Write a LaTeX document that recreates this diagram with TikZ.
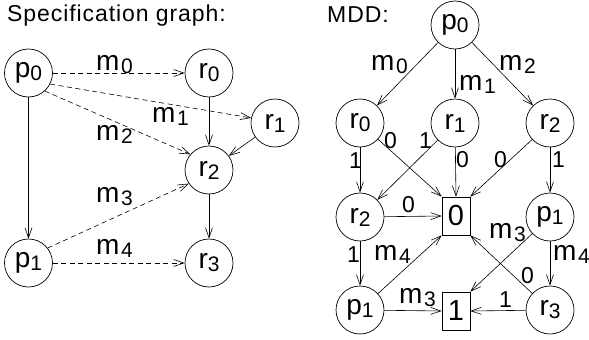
\documentclass[tikz,border=0pt]{standalone}
\usepackage{fontspec}
\setmainfont{Liberation Sans}
\newfontfamily\widefont[LetterSpace=4]{Liberation Sans}
\usetikzlibrary{arrows.meta}
\newcommand{\fsz}[1]{\fontsize{#1}{#1}\selectfont}
% letter with a lowered index
\newcommand{\idx}[2]{#1\raisebox{-3pt}{\fsz{21}#2}}
\newcommand{\msub}[2]{#1\hspace{1.5pt}\raisebox{-3pt}{\fsz{21}#2}}

\begin{document}
\begin{tikzpicture}[x=1pt,y=-1pt,
  state/.style={draw, circle, minimum size=48pt, inner sep=0pt, line width=0.7pt, font=\fsz{28}},
  term/.style={draw, minimum width=28pt, minimum height=38pt, inner sep=0pt, line width=0.7pt, font=\fsz{29}},
  flow/.style={-{Straight Barb[length=10pt,width=7pt]}, line width=0.6pt},
  msg/.style={flow, dash pattern=on 5pt off 3.5pt},
  lbl/.style={font=\fsz{28}, inner sep=0pt, anchor=base west},
  bit/.style={font=\fsz{23}, inner sep=0pt, anchor=base west},
  heading/.style={font=\widefont\fsz{23}, inner sep=0pt, anchor=base west}
]
\useasboundingbox (0,0) rectangle (589,340);

% ---------------- specification graph ----------------
\node[heading] (t1) at (7,21) {Specification graph:};

\node[state] (p0) at (28.5,73)  {\idx{p}{0}};
\node[state] (r0) at (209,73)   {\idx{r}{0}};
\node[state] (r1) at (275,123)  {\idx{r}{1}};
\node[state] (r2) at (209,170)  {\idx{r}{2}};
\node[state] (p1) at (28.5,263) {\idx{p}{1}};
\node[state] (r3) at (209,263)  {\idx{r}{3}};

\draw[msg]  (p0) -- (r0);
\draw[msg]  (p0.-27) -- (r1.168);
\draw[msg]  (p0.-48) -- (r2.140);
\draw[flow] (p0) -- (p1);
\draw[flow] (r0) -- (r2);
\draw[flow] (r1) -- (r2);
\draw[msg]  (p1.38) -- (r2.214);
\draw[msg]  (p1) -- (r3);
\draw[flow] (r2) -- (r3);

\node[lbl] (lm0) at (96,70)   {\msub{m}{0}};
\node[lbl] (lm1) at (152,122) {\msub{m}{1}};
\node[lbl] (lm2) at (96,140)  {\msub{m}{2}};
\node[lbl] (lm3) at (96,202)  {\msub{m}{3}};
\node[lbl] (lm4) at (96,254)  {\msub{m}{4}};

% ---------------- MDD ----------------
\node[heading] (t2) at (327,22) {MDD:};

\node[state] (q0)  at (455,25)  {\idx{p}{0}};
\node[state] (s0)  at (360,123) {\idx{r}{0}};
\node[state] (s1)  at (455,123) {\idx{r}{1}};
\node[state] (s2)  at (550,123) {\idx{r}{2}};
\node[state] (s2b) at (360,217) {\idx{r}{2}};
\node[term]  (b0)  at (456,216) {0};
\node[state] (q1)  at (550,217) {\idx{p}{1}};
\node[state] (q1b) at (360,310) {\idx{p}{1}};
\node[term]  (b1)  at (456,311) {1};
\node[state] (s3)  at (550,310) {\idx{r}{3}};

\draw[flow] (q0) -- (s0);
\draw[flow] (q0) -- (s1);
\draw[flow] (q0) -- (s2);

\draw[flow] (s0) -- (s2b);
\draw[flow] (s0) -- (b0.north west);
\draw[flow] (s1) -- (s2b);
\draw[flow] (s1) -- (b0.north);
\draw[flow] (s2) -- (b0.north east);
\draw[flow] (s2) -- (q1);

\draw[flow] (s2b) -- (b0.west);
\draw[flow] (s2b) -- (q1b);
\draw[flow] (q1b) -- (b0.south west);
\draw[flow] (q1b) -- (b1.west);
\draw[flow] (q1) -- (b1.north east);
\draw[flow] (q1) -- (s3);
\draw[flow] (s3) -- (b0.south east);
\draw[flow] (s3) -- (b1.east);

\node[lbl] (n0) at (371,70)  {\msub{m}{0}};
\node[lbl] (n1) at (459,90)  {\msub{m}{1}};
\node[lbl] (n2) at (499,70)  {\msub{m}{2}};
\node[lbl] (n4) at (374,260) {\msub{m}{4}};
\node[lbl] (n3) at (399,303) {\msub{m}{3}};
\node[lbl] (n3b) at (489,238) {\msub{m}{3}};
\node[lbl] (n4b) at (553,260) {\msub{m}{4}};

\node[bit] (d1) at (349,168) {1};
\node[bit] (d2) at (384,148) {0};
\node[bit] (d3) at (419,148) {1};
\node[bit] (d4) at (456,167) {0};
\node[bit] (d5) at (494,167) {0};
\node[bit] (d6) at (552,167) {1};
\node[bit] (d7) at (402,212) {0};
\node[bit] (d8) at (347,262) {1};
\node[bit] (d9) at (521,283) {0};
\node[bit] (d10) at (499,307) {1};
\end{tikzpicture}
\end{document}
